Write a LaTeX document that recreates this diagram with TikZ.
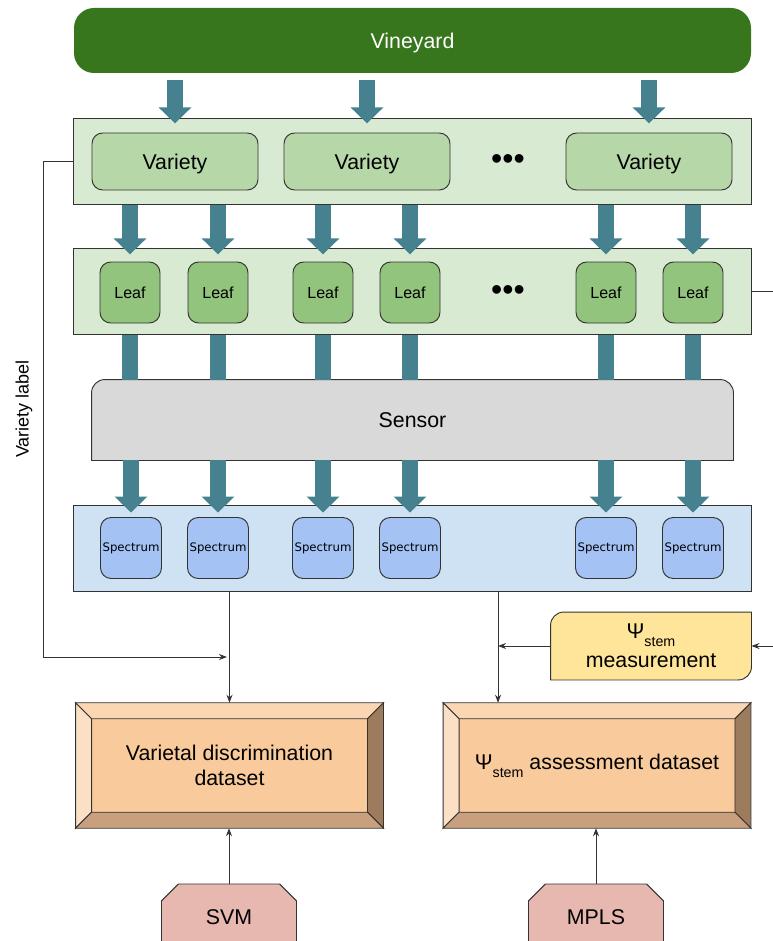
\documentclass[tikz,border=0pt]{standalone}
\usepackage{fontspec}
\setmainfont{Liberation Sans}
\newfontfamily\dejavu{DejaVu Sans}
\usetikzlibrary{positioning,calc,arrows.meta,shapes.misc,backgrounds}

\definecolor{vine}{HTML}{38761D}
\definecolor{panelgreen}{HTML}{D9EAD3}
\definecolor{varietyfill}{HTML}{B6D7A8}
\definecolor{leaffill}{HTML}{93C47D}
\definecolor{sensorgray}{HTML}{D9D9D9}
\definecolor{specpanel}{HTML}{CFE2F3}
\definecolor{specfill}{HTML}{A4C2F4}
\definecolor{arrowteal}{HTML}{45818E}
\definecolor{psifill}{HTML}{FFE599}
\definecolor{datafill}{HTML}{F9CB9C}
\definecolor{beveltop}{HTML}{FAD6B3}
\definecolor{bevelleft}{HTML}{FCE0C6}
\definecolor{bevelright}{HTML}{9C7C5D}
\definecolor{bevelbottom}{HTML}{C8A07D}
\definecolor{methodfill}{HTML}{E6B8AF}

\newcommand{\psistem}{Ψ\raisebox{-6pt}{\fontsize{10.7}{12}\selectfont stem}}

\begin{document}
\begin{tikzpicture}[x=0.75pt, y=-0.75pt, >={Stealth[length=6pt, width=4.5pt]},
	box/.style={draw=black!80, line width=0.7pt, inner sep=0pt, align=center, font=\fontsize{16}{19}\selectfont},
	panel/.style={box, minimum width=508.5pt, minimum height=64pt},
	variety/.style={box, fill=varietyfill, rounded corners=8pt, minimum width=124.5pt, minimum height=42.75pt},
	leaf/.style={box, fill=leaffill, rounded corners=8pt, minimum width=45pt, minimum height=45.75pt, font=\fontsize{12}{14}\selectfont},
	spectrum/.style={box, fill=specfill, rounded corners=8pt, minimum size=45.75pt, font=\dejavu\fontsize{8.8}{10}\selectfont},
	dataset/.style={box, fill=datafill, minimum width=230.25pt, minimum height=93.4pt},
	method/.style={box, fill=methodfill, chamfered rectangle, chamfered rectangle corners={north west,north east}, chamfered rectangle xsep=7pt, chamfered rectangle ysep=7pt, minimum width=101.25pt, minimum height=49.5pt},
	block/.style={draw=arrowteal, line width=12pt, -{Triangle[width=24pt, length=12pt]}},
	shaft/.style={draw=arrowteal, line width=12pt},
	conn/.style={draw=black!80, line width=0.75pt},
	dots/.style={font=\fontsize{24}{24}\selectfont}]
	
	\useasboundingbox (0,0) rectangle (772,941);
	
	\node [box, draw=none, fill=vine, text=white, text depth=0pt, rounded corners=15pt, minimum width=507.75pt, minimum height=48.75pt] (vineyard) at (412.5,40.5) {Vineyard};
	
	\node [panel, fill=panelgreen] (varpanel) at (412,161.5) {};
	\node [panel, fill=panelgreen] (leafpanel) at (412,291.5) {};
	\node [panel, fill=specpanel, minimum height=64.5pt] (specpanel) at (412,548) {};
	
	\foreach \x [count=\i] in {175,367,649}
	\node [variety, text depth=0pt] (variety-\i) at (\x,161.5) {Variety};
	
	\foreach \x [count=\i] in {130,218,323,410,606,693}
	\node [leaf] (leaf-\i) at (\x,292.5) {Leaf};
	
	\foreach \x [count=\i] in {131,218,323,410,606,693}
	\node [spectrum] (spectrum-\i) at (\x,548) {Spectrum};
	
	\node [dots] (dots-variety) at (508,162) {•••};
	\node [dots] (dots-leaf) at (508,293) {•••};
	
	% sensor and psi boxes: only some corners are rounded
	\node [box, draw=none, text depth=0pt, minimum width=480.75pt, minimum height=60pt] (sensor) at (412.5,420) {Sensor};
	\node [box, draw=none, minimum width=150pt, minimum height=50.25pt, font=\fontsize{16}{18}\selectfont] (psi) at (651,646) {\psistem\\[4pt]measurement};
	\begin{scope}[on background layer]
	\draw [box, fill=sensorgray] (sensor.south west) -- ([yshift=-10pt]sensor.north west) arc [start angle=180, end angle=90, radius=10pt] -- ([xshift=-10pt]sensor.north east) arc [start angle=90, end angle=0, radius=10pt] -- (sensor.south east) -- cycle;
	\draw [box, fill=psifill] (psi.north east) -- ([yshift=10pt]psi.south east) arc [start angle=0, end angle=-90, radius=10pt] -- (psi.south west) -- ([yshift=-10pt]psi.north west) arc [start angle=180, end angle=90, radius=10pt] -- cycle;
	\end{scope}
	
	\foreach \i in {1,2,3}
	\draw [block] ($(variety-\i |- vineyard.south)+(0,7)$) -- ($(variety-\i |- varpanel.north)+(0,5)$);
	
	\foreach \i in {1,...,6}
	\draw [block] (leaf-\i |- varpanel.south) -- ($(leaf-\i |- leafpanel.north)+(0,6)$);
	
	\foreach \i in {1,...,6}
	\draw [shaft] (leaf-\i |- leafpanel.south) -- (leaf-\i |- sensor.north);
	
	\foreach \i in {1,...,6}
	\draw [block] (spectrum-\i |- sensor.south) -- ($(spectrum-\i |- specpanel.north)+(0,8)$);
	
	% datasets with bevelled frame
	\node [dataset] (vdata) at (229.5,765.5) {Varietal discrimination\\dataset};
	\node [dataset] (adata) at (597,765.5) {\psistem{} assessment dataset};
	\foreach \b in {vdata,adata} {
		\draw [box, fill=beveltop] (\b.north west) -- (\b.north east) -- ($(\b.north east)+(-16,16)$) -- ($(\b.north west)+(16,16)$) -- cycle;
		\draw [box, fill=bevelleft] (\b.north west) -- (\b.south west) -- ($(\b.south west)+(16,-16)$) -- ($(\b.north west)+(16,16)$) -- cycle;
		\draw [box, fill=bevelright] (\b.north east) -- (\b.south east) -- ($(\b.south east)+(-16,-16)$) -- ($(\b.north east)+(-16,16)$) -- cycle;
		\draw [box, fill=bevelbottom] (\b.south west) -- (\b.south east) -- ($(\b.south east)+(-16,-16)$) -- ($(\b.south west)+(16,-16)$) -- cycle;
	}
	
	\node [method] (svm) at (229,917) {SVM};
	\node [method] (mpls) at (596,917) {MPLS};
	
	\node [rotate=90, font=\fontsize{13.5}{16}\selectfont] (vlabel) at (24,409) {Variety label};
	
	\coordinate (joinl) at (227,657);
	\coordinate (tapr) at ($(adata.north west)+(55,0)$);
	
	\draw [conn, ->] (varpanel.west) -- ++(-29,0) |- (joinl);
	\draw [conn, ->] (specpanel.south -| vdata.north) -- (vdata.north);
	\draw [conn, ->] (specpanel.south -| tapr) -- (tapr);
	\draw [conn, ->] (psi.west) -- (psi.west -| tapr);
	\draw [conn, <-] (psi.east) -- ++(25,0);
	\draw [conn] (leafpanel.east) -- ++(25,0);
	\draw [conn, ->] (svm.north) -- (svm.north |- vdata.south);
	\draw [conn, ->] (mpls.north) -- (mpls.north |- adata.south);
	
\end{tikzpicture}
\end{document}
